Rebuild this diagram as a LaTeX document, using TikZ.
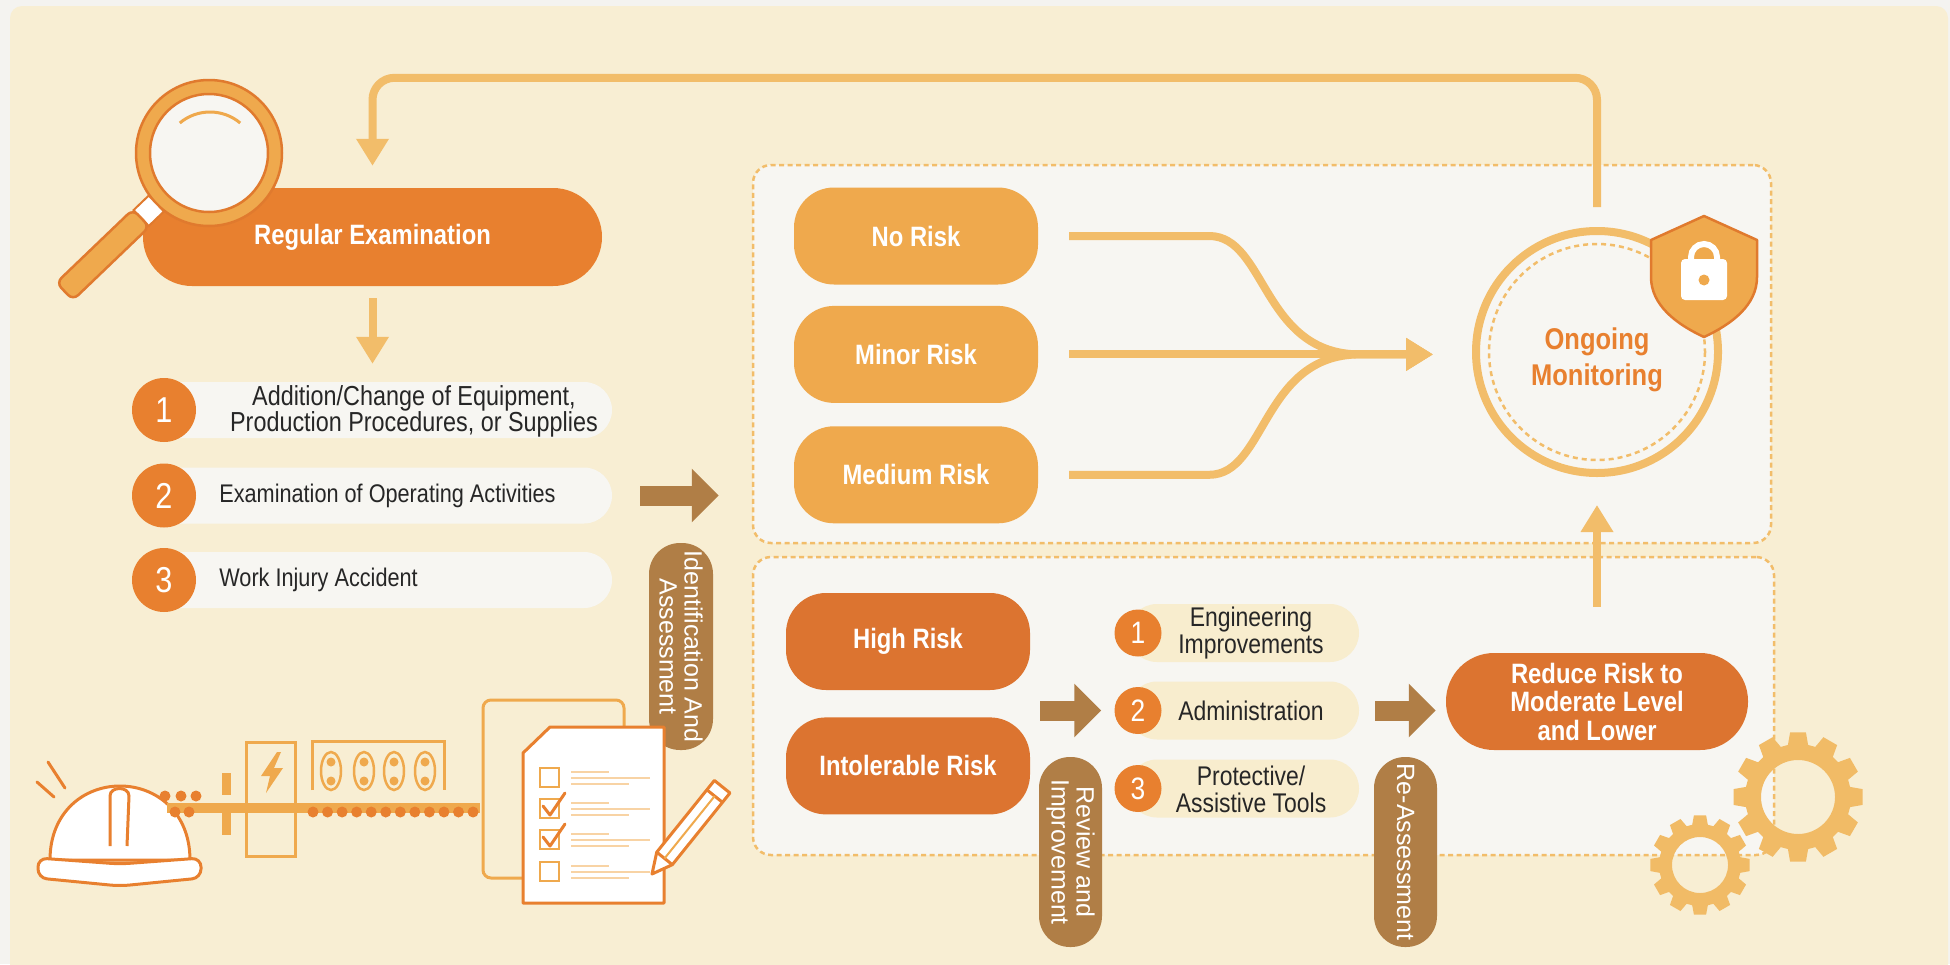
\documentclass[tikz,border=0pt]{standalone}
\usepackage{fontspec}
\setmainfont{Liberation Sans}
\newfontfamily\nar[FakeStretch=0.85]{Liberation Sans}
\usetikzlibrary{arrows.meta,positioning}
\definecolor{paper}{HTML}{F4F3F0}
\definecolor{cream}{HTML}{F8EED3}
\definecolor{boxfill}{HTML}{F7F6F2}
\definecolor{orA}{HTML}{E8802F}
\definecolor{orB}{HTML}{DC7430}
\definecolor{orC}{HTML}{EFA94D}
\definecolor{orD}{HTML}{E07A2E}
\definecolor{flowc}{HTML}{F2BD6A}
\definecolor{gearc}{HTML}{F1BB66}
\definecolor{brownc}{HTML}{B07E46}
\definecolor{subfill}{HTML}{F8EDCE}
\definecolor{inkc}{HTML}{262626}
\definecolor{paleline}{HTML}{F8D3A4}
\tikzset{
	every node/.style={inner sep=0pt},
	zone/.style={draw=flowc,fill=boxfill,line width=2.5pt,dash pattern=on 5pt off 3.5pt,rounded corners=18pt},
	regbox/.style={fill=orA,rounded corners=49pt,minimum width=459pt,minimum height=98pt,text=white,font=\nar\bfseries\fontsize{28}{32}\selectfont},
	riskpill/.style={fill=#1,rounded corners=40pt,minimum width=244pt,minimum height=97pt,text=white,align=center,font=\nar\bfseries\fontsize{28}{28.5}\selectfont},
	itempill/.style={fill=boxfill,rounded corners=28pt,minimum width=462pt,minimum height=56pt},
	numdot/.style={circle,fill=orA,minimum size=64pt,text=white,font=\nar\fontsize{36}{36}\selectfont},
	itemtext/.style={text=inkc,font=\nar\fontsize{25.5}{25.5}\selectfont},
	montext/.style={text=orA,align=center,font=\nar\bfseries\fontsize{30}{36}\selectfont},
	subpill/.style={fill=subfill,rounded corners=29pt,minimum width=231pt,minimum height=58pt},
	subdot/.style={circle,fill=orA,minimum size=47pt,text=white,font=\nar\fontsize{31}{31}\selectfont},
	subtext/.style={text=inkc,align=center,font=\nar\fontsize{27}{27}\selectfont},
	vtag/.style={fill=brownc,rotate=-90,minimum width=190pt,minimum height=63pt,rounded corners=31pt,text=white,align=center,font=\fontsize{25}{25}\selectfont},
	flow/.style={draw=flowc,line width=8pt,-{Triangle[width=31pt,length=27pt]}},
	block/.style={draw=brownc,line width=20pt,-{Triangle[width=52pt,length=27pt]}},
	thinor/.style={draw=orC,line width=3pt},
	thickor/.style={draw=orA,line width=3pt}
}
\begin{document}
\begin{tikzpicture}[x=1pt,y=-1pt]
\useasboundingbox (0,0) rectangle (1950,964);
\fill[paper] (0,0) rectangle (1950,964);
\fill[cream,rounded corners=12pt] (10,6) rectangle (1948,990);

% risk zones
\node[zone,minimum width=1018pt,minimum height=378pt] (upper) at (1262,354) {};
\node[zone,minimum width=1021pt,minimum height=298pt] (lower) at (1263.5,706) {};

% examination column
\node[regbox] (reg) at (372.5,237) {Regular Examination};
\node[itempill] (p1) at (381,410) {};
\node[itempill] (p2) at (381,495.5) {};
\node[itempill] (p3) at (381,580) {};
\node[numdot] (n1) at (164,410) {1};
\node[numdot] (n2) at (164,495.5) {2};
\node[numdot] (n3) at (164,580) {3};
\node[itemtext,align=center,font=\nar\fontsize{27.5}{26}\selectfont] at (414,411) {Addition/Change of Equipment,\\Production Procedures, or Supplies};
\node[itemtext,right=23pt of n2] {Examination of Operating Activities};
\node[itemtext,right=23pt of n3] {Work Injury Accident};

% magnifier
\filldraw[fill=orC,draw=orD,line width=2.5pt] (209,153) circle (73);
\filldraw[fill=boxfill,draw=orD,line width=2.5pt] (209,153) circle (59);
\draw[orC,line width=3pt] ([shift={(210,159)}]-130:47) arc (-130:-50:47);
\begin{scope}[shift={(209,153)},rotate=223.8]
	\filldraw[fill=white,draw=orD,line width=2pt] (73,-11) rectangle (94,11);
	\filldraw[fill=orC,draw=orD,line width=2.5pt,rounded corners=7pt] (94,-12) rectangle (200,12);
\end{scope}

% risk levels
\node[riskpill=orC] (none) at (916,236) {No Risk};
\node[riskpill=orC,below=21pt of none] (minor) {Minor Risk};
\node[riskpill=orC,below=23pt of minor] (medium) {Medium Risk};
\node[riskpill=orB] (high) at (908,641.5) {High Risk};
\node[riskpill=orB,below=27pt of high] (intol) {Intolerable Risk};
\node[riskpill=orB,minimum width=302pt,rounded corners=48pt] (reduce) at (1597,701.5) {Reduce Risk to\\Moderate Level\\and Lower};

% monitoring
\node[circle,draw=flowc,line width=8pt,fill=boxfill,minimum size=242pt] (mon) at (1597,352) {};
\draw[flowc,line width=2.5pt,dash pattern=on 5pt off 4pt] (mon.center) circle (108);
\node[montext] at ([yshift=-8pt]mon.center) {Ongoing\\Monitoring};
\filldraw[fill=orC,draw=orD,line width=2.5pt,line join=round] (1704,216) -- (1757,240) -- (1757,277) .. controls (1757,305) and (1732,324) .. (1704,337) .. controls (1676,324) and (1651,305) .. (1651,277) -- (1651,240) -- cycle;
\draw[white,line width=6pt] (1691,262) -- (1691,257) arc (180:360:13) -- (1717,262);
\fill[white,rounded corners=4pt] (1681,259) rectangle (1727,300);
\fill[orC] (1704,280) circle (5.5);

\coordinate (tip) at ([xshift=-39pt]mon.west |- minor.east);
\draw[flow] ([xshift=31pt]none.east) -- ++(140,0) .. controls +(57,0) and +(-98,0) .. ([xshift=-73pt]tip) -- (tip);
\draw[flow] ([xshift=31pt]medium.east) -- ++(140,0) .. controls +(57,0) and +(-98,0) .. ([xshift=-73pt]tip) -- (tip);
\draw[flow] ([xshift=31pt]minor.east) -- (tip);
\draw[flow] ([yshift=46pt]reduce.north) -- ([yshift=-28pt]mon.south);
\draw[flow,rounded corners=22pt] ([yshift=20pt]mon.north) |- ([yshift=110pt]reg.north) -- ([yshift=22pt]reg.north);
\draw[flow] ([yshift=-12pt]reg.south) -- ([yshift=18pt]reg.south |- p1.north);

% control measures
\node[subpill] (q1) at (1243.5,633) {};
\node[subpill] (q2) at (1243.5,710.5) {};
\node[subpill] (q3) at (1243.5,788.5) {};
\node[subdot] (s1) at (1138,633) {1};
\node[subdot] (s2) at (1138,710.5) {2};
\node[subdot] (s3) at (1138,788.5) {3};
\node[subtext] at (1251,633) {Engineering\\Improvements};
\node[subtext] at (1251,711) {Administration};
\node[subtext] at (1251,789) {Protective/\\Assistive Tools};

\draw[block] ([xshift=28pt]p2.east) -- ([xshift=-33pt]upper.west |- p2.east);
\draw[block] ([xshift=10pt]intol.east |- s2) -- ([xshift=-13pt]s2.west);
\draw[block] ([xshift=16pt]q2.east) -- ([xshift=-10pt]reduce.west |- q2.east);

\node[vtag,minimum width=207pt,minimum height=64pt] (idtag) at (681,646.5) {Identification And\\Assessment};
\node[vtag] (revtag) at (1070.5,852) {Review and\\Improvement};
\node[vtag] (retag) at (1405.5,852) {Re-Assessment};

% gears
\begin{scope}[shift={(1798,797)}]
	\fill[gearc,even odd rule] (-11:53) \foreach \a in {0,30,...,330}{ -- ({\a-11}:53) -- ({\a-7}:65) -- ({\a+7}:65) -- ({\a+11}:53)} -- cycle (0,0) circle (37);
\end{scope}
\begin{scope}[shift={(1700,865)}]
	\fill[gearc,even odd rule] (-11:41) \foreach \a in {0,30,...,330}{ -- ({\a-11}:41) -- ({\a-7}:50) -- ({\a+7}:50) -- ({\a+11}:41)} -- cycle (0,0) circle (28);
\end{scope}

% hard hat
\filldraw[thickor,fill=white] (50,860) .. controls (50,812) and (84,786) .. (120,786) .. controls (156,786) and (190,812) .. (190,860) -- cycle;
\filldraw[thickor,fill=white] (110,846) -- (110,796) .. controls (110,786) and (129,786) .. (129,796) -- (127,846);
\filldraw[thickor,fill=white,rounded corners=9pt] (38,858) -- (120,864) -- (201,858) -- (201,878) -- (120,886) -- (38,878) -- cycle;
\draw[thickor,line cap=round] (48,762) -- (65,788) (37,782) -- (54,797);

% line with switch and panel
\draw[thinor] (246,742) rectangle (295,856);
\fill[orC] (167,803) rectangle (480,813);
\foreach \x in {165,181,196} \fill[orA] (\x,796) circle (5.5);
\foreach \x in {175,189} \fill[orA] (\x,812) circle (5.5);
\foreach \i in {0,...,11} \fill[orA] ({313+14.55*\i},812) circle (5.5);
\fill[orC] (222,773) rectangle (231,795);
\fill[orC] (222,813) rectangle (231,835);
\fill[orC] (277,752) -- (261,776) -- (270,776) -- (266,793) -- (283,768) -- (274,768) -- (281,752) -- cycle;
\draw[thinor] (312,790) -- (312,741) -- (444,741) -- (444,790);
\foreach \x in {331,364,394,425} {
	\draw[orC,line width=2.5pt] (\x,771) ellipse (10 and 19);
	\fill[orC] (\x,762) circle (4.5);
	\fill[orC] (\x,781) circle (4.5);
}

% checklist
\filldraw[thinor,fill=cream,rounded corners=8pt] (483,700) rectangle (624,878);
\filldraw[thickor,fill=white,line join=round] (550,727) -- (664,727) -- (664,903) -- (523,903) -- (523,753) -- cycle;
\foreach \y in {768,799,830,862} {
	\draw[orC,line width=2.5pt] (540,\y) rectangle ++(19,19);
	\draw[paleline,line width=2.5pt] (571,\y+4) -- ++(38,0) (571,\y+10) -- ++(79,0) (571,\y+16) -- ++(58,0);
}
\draw[orA,line width=3pt,line cap=round,line join=round] (543,806) -- (550,815) -- (565,793) (543,837) -- (550,846) -- (565,824);
\begin{scope}[shift={(652,874)},rotate=51.2]
	\filldraw[thickor,fill=white,line join=round] (0,0) -- (20,-10) -- (112,-10) -- (112,10) -- (20,10) -- cycle;
	\draw[thickor] (20,-10) -- (20,10) (100,-10) -- (100,10);
	\draw[orC,line width=2pt] (20,0) -- (100,0);
\end{scope}
\end{tikzpicture}
\end{document}
